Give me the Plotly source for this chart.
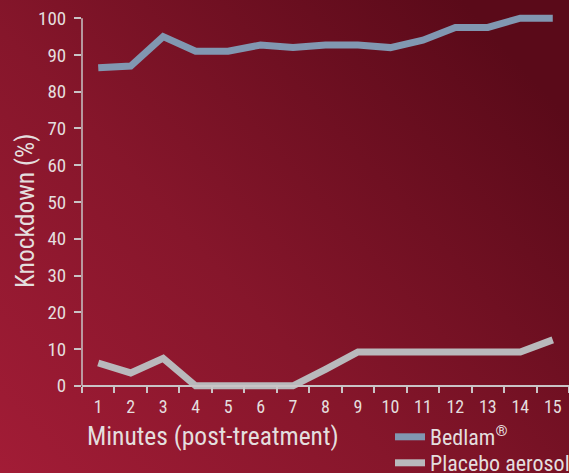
import base64
import plotly.graph_objects as go

minutes = [str(i) for i in range(1, 16)]
bedlam = [86.5, 87, 95, 91, 91, 92.7, 92, 92.7, 92.7, 92, 94, 97.5, 97.5, 100, 100]
placebo = [6.2, 3.5, 7.5, 0, 0, 0, 0, 4.5, 9.2, 9.2, 9.2, 9.2, 9.2, 9.2, 12.5]
y_ticks = list(range(0, 101, 10))

W, H = 569, 473
FONT = "Roboto Condensed, DejaVu Sans Condensed, sans-serif"
TXT = "#e4dede"
AX = "#c9c4c6"

svg = f'''<svg xmlns="http://www.w3.org/2000/svg" width="{W}" height="{H}" preserveAspectRatio="none">
<defs><linearGradient id="g" x1="0" y1="1" x2="1" y2="0.25">
<stop offset="0" stop-color="#a21c36"/>
<stop offset="0.45" stop-color="#86162b"/>
<stop offset="1" stop-color="#5a0a19"/>
</linearGradient></defs>
<rect width="{W}" height="{H}" fill="url(#g)"/></svg>'''
src = "data:image/svg+xml;base64," + base64.b64encode(svg.encode()).decode()

x0 = 82 / W
ytop_px, ybot_px = 9, 395
ylo, yhi = -2.5, 102.5
ydom = [(H - ybot_px) / H, (H - ytop_px) / H]
y0_px = ybot_px - (0 - ylo) * (ybot_px - ytop_px) / (yhi - ylo)

fig = go.Figure()
fig.add_trace(go.Scatter(x=minutes, y=bedlam, mode="lines", name="Bedlam<sup>®</sup>",
                         legend="legend", line=dict(color="#8197b1", width=7)))
fig.add_trace(go.Scatter(x=minutes, y=placebo, mode="lines", name="Placebo aerosol",
                         legend="legend2", line=dict(color="#b9b9bc", width=7)))

fig.update_layout(
    width=W, height=H,
    margin=dict(l=0, r=0, t=0, b=0, autoexpand=False),
    paper_bgcolor="#7a1024",
    plot_bgcolor="rgba(0,0,0,0)",
    font=dict(family=FONT, color=TXT, size=17),
    images=[dict(source=src, xref="paper", yref="paper", x=0, y=1, sizex=1, sizey=1,
                 sizing="stretch", xanchor="left", yanchor="top", layer="below")],
    xaxis=dict(domain=[x0, 1], type="category", range=[-0.5, 14.5], tickson="boundaries",
               ticks="outside", automargin=False, ticklabelstandoff=5,
               ticklen=6, tickcolor=AX, tickwidth=1.5, showline=True, linecolor=AX,
               linewidth=1.5, showgrid=False, zeroline=False, anchor="free",
               position=(H - y0_px) / H, tickfont=dict(size=18, color=TXT)),
    yaxis=dict(domain=ydom, range=[ylo, yhi], tickvals=y_ticks, ticks="outside",
               automargin=False, ticklabelstandoff=4,
               ticklen=7, tickcolor=AX, tickwidth=1.5, showline=False, showgrid=False,
               zeroline=False, tickfont=dict(size=19, color=TXT)),
    shapes=[dict(type="line", xref="paper", yref="y", x0=x0, x1=x0, y0=0, y1=100,
                 line=dict(color=AX, width=1.5), layer="below")],
    annotations=[
        dict(text="Knockdown (%)", xref="paper", yref="paper", x=25 / W, y=(H - 211) / H,
             textangle=-90, showarrow=False, font=dict(size=25.5, color=TXT),
             xanchor="center", yanchor="middle"),
        dict(text="Minutes (post-treatment)", xref="paper", yref="paper", x=85 / W,
             y=(H - 436) / H, showarrow=False, font=dict(size=25.5, color=TXT),
             xanchor="left", yanchor="middle"),
    ],
    legend=dict(x=390 / W, y=(H - 416) / H, xanchor="left", yanchor="top",
                bgcolor="rgba(0,0,0,0)", font=dict(size=22, color=TXT)),
    legend2=dict(x=390 / W, y=(H - 442) / H, xanchor="left", yanchor="top",
                 bgcolor="rgba(0,0,0,0)", font=dict(size=22, color=TXT)),
    showlegend=True,
)

fig.write_html("out.html", config={"displayModeBar": False},
               post_script="document.body.style.margin='0';document.body.style.overflow='hidden';")
